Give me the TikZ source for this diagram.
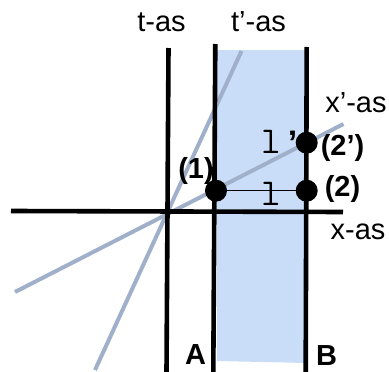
\documentclass[tikz,border=0pt]{standalone}
\usepackage{fontspec}
\setmainfont{Liberation Sans}
\usepackage{tikz}
\usetikzlibrary{positioning,calc}

\definecolor{strip}{RGB}{201,221,249}
\definecolor{skew}{RGB}{160,176,202}

\tikzset{
    axis/.style={line width=4.6pt},
    tilted/.style={skew, line width=4pt},
    event/.style={circle, fill=black, inner sep=0pt, minimum size=22pt},
    lab/.style={font=\fontsize{29}{32}\selectfont},
    blab/.style={font=\fontsize{29}{32}\selectfont\bfseries},
    len/.style={font=\fontsize{38}{40}\selectfont\ttfamily, inner sep=0pt}
}

\begin{document}
\begin{tikzpicture}[x=1pt,y=-1pt]
    \useasboundingbox (0,0) rectangle (389,372);

    % Shaded strip between A and B
    \fill[strip] (217,50) -- (306,50) -- (306,363) -- (217,361) -- cycle;

    % Rest frame axes
    \coordinate (tTop) at (168.5,48);
    \coordinate (tBot) at (166.5,372);
    \coordinate (xLeft) at (11,211);
    \coordinate (xRight) at (343,212);

    % Moving frame axes
    \coordinate (tpTop) at (241.5,51);
    \coordinate (tpBot) at (95,370);
    \coordinate (xpLeft) at (15,292);
    \coordinate (xpRight) at (343.5,124);

    % Worldlines of A and B
    \coordinate (aTop) at (215.3,44);
    \coordinate (aBot) at (213.3,372);
    \coordinate (bTop) at (306.7,47);
    \coordinate (bBot) at (305.7,372);

    \draw[tilted] (tpTop) -- (tpBot);
    \draw[tilted] (xpLeft) -- (xpRight);
    \draw[axis] (tTop) -- (tBot);
    \draw[axis] (xLeft) -- (xRight);
    \draw[axis] (aTop) -- (aBot);
    \draw[axis] (bTop) -- (bBot);

    % Events
    \node[event] (p1) at (216,190.7) {};
    \node[event] (p2) at (306.7,190.7) {};
    \node[event] (p2b) at (306.7,142.7) {};
    \draw[line width=1.4pt] (p1) -- (p2);

    % Lengths
    \node[len] (lenA) at (271,194) {l};
    \node[len] (lenB) at (271,141.5) {l};
    \node[font=\fontsize{34}{36}\selectfont\bfseries, inner sep=0pt] (prime) at (292.5,143) {’};

    % Labels
    \node[lab] (tlab) at (161.5,22) {t-as};
    \node[lab] (tplab) at (258.5,22) {t’-as};
    \node[lab] (xplab) at (356,103) {x’-as};
    \node[lab] (xlab) at (358,232) {x-as};
    \node[blab] (l1) at (196,171) {(1)};
    \node[blab] (l2) at (342.5,189) {(2)};
    \node[blab] (l2b) at (342.5,148) {(2’)};
    \node[blab] (lA) at (195.5,355) {A};
    \node[blab] (lB) at (326.7,356) {B};
\end{tikzpicture}
\end{document}
